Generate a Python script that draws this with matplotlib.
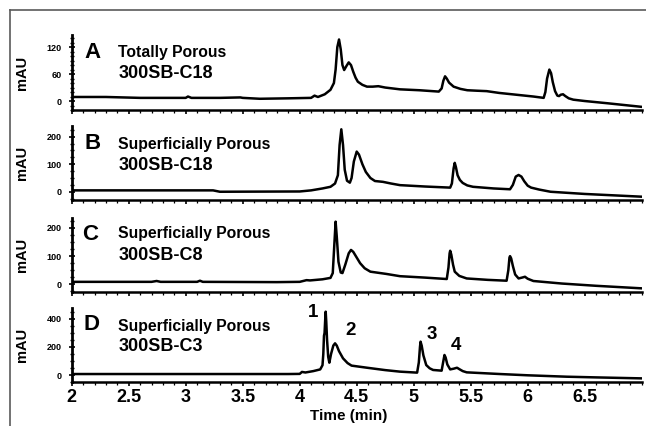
import matplotlib
matplotlib.use("Agg")
import matplotlib.pyplot as plt
from matplotlib.lines import Line2D
from matplotlib.ticker import MultipleLocator

plt.rcParams['font.family'] = ['Liberation Sans', 'DejaVu Sans']
plt.rcParams['font.weight'] = 'bold'

# ---------------- data ----------------
xA = [2.0, 2.3, 2.6, 3.0, 3.02, 3.05, 3.3, 3.48, 3.5, 3.65, 3.9, 4.1, 4.13, 4.16, 4.22, 4.27,
      4.30, 4.315, 4.33, 4.345, 4.36, 4.375, 4.39, 4.41, 4.43, 4.45, 4.47, 4.49, 4.51, 4.55,
      4.59, 4.64, 4.69, 4.75, 4.88, 5.05, 5.22, 5.245, 5.26, 5.275, 5.29, 5.31, 5.35, 5.41,
      5.47, 5.55, 5.64, 5.75, 5.9, 6.05, 6.14, 6.155, 6.17, 6.19, 6.205, 6.22, 6.24, 6.26,
      6.275, 6.29, 6.31, 6.33, 6.36, 6.4, 6.5, 6.7, 7.0]
yA = [9, 9, 7, 7, 10, 7, 7, 8, 7, 5, 6, 7, 12, 9, 15, 25,
      40, 70, 120, 137, 115, 80, 69, 78, 86, 80, 65, 52, 43, 36,
      32, 32, 33, 30, 26, 24, 21, 28, 45, 55, 50, 41, 32, 27,
      24, 23, 22, 18, 14, 10, 7, 20, 50, 70, 62, 42, 22, 12,
      11, 14, 15, 11, 6, 3, 0, -5, -13]

xB = [2.0, 3.24, 3.3, 4.0, 4.1, 4.2, 4.27, 4.31, 4.335, 4.35, 4.365, 4.38, 4.395, 4.415,
      4.44, 4.455, 4.475, 4.50, 4.52, 4.55, 4.58, 4.62, 4.66, 4.73, 4.80, 4.88, 5.1, 5.32,
      5.335, 5.35, 5.36, 5.37, 5.385, 5.405, 5.43, 5.47, 5.52, 5.7, 5.845, 5.87, 5.895,
      5.92, 5.945, 5.97, 6.0, 6.03, 6.1, 6.2, 6.5, 7.0]
yB = [5, 5, 0, 1, 5, 12, 18, 30, 60, 170, 227, 170, 80, 40,
      33, 50, 110, 146, 135, 100, 72, 50, 39, 36, 30, 24, 19, 15,
      30, 85, 105, 90, 60, 43, 32, 23, 18, 12, 9, 25, 55,
      61, 55, 38, 22, 15, 8, 0, -8, -18]

xC = [2.0, 2.7, 2.745, 2.78, 3.1, 3.125, 3.15, 3.8, 4.0, 4.03, 4.06, 4.09, 4.2, 4.27, 4.29,
      4.305, 4.315, 4.325, 4.34, 4.36, 4.375, 4.40, 4.43, 4.45, 4.47, 4.50, 4.53, 4.57, 4.62,
      4.76, 4.88, 5.1, 5.29, 5.305, 5.315, 5.32, 5.33, 5.345, 5.36, 5.40, 5.465, 5.65, 5.815,
      5.83, 5.84, 5.845, 5.855, 5.87, 5.89, 5.92, 5.95, 5.976, 6.0, 6.05, 6.3, 6.6, 7.0]
yC = [9, 9, 12, 9, 9, 13, 9, 8, 9, 12, 15, 14, 18, 23, 40,
      150, 222, 170, 80, 42, 40, 70, 110, 122, 115, 95, 75, 57, 45,
      37, 29, 24, 19, 60, 110, 119, 105, 70, 45, 30, 21, 16, 13,
      50, 95, 100, 92, 65, 35, 21, 24, 27, 20, 12, 3, -5, -14]

xD = [2.0, 3.9, 4.0, 4.02, 4.05, 4.12, 4.18, 4.20, 4.207, 4.213, 4.218, 4.224, 4.228, 4.233,
      4.24, 4.25, 4.26, 4.275, 4.295, 4.31, 4.325, 4.345, 4.38, 4.42, 4.455, 4.59, 4.75,
      4.88, 5.03, 5.045, 5.055, 5.06, 5.07, 5.085, 5.11, 5.14, 5.17, 5.245, 5.258, 5.27,
      5.28, 5.295, 5.32, 5.35, 5.38, 5.40, 5.43, 5.465, 5.757, 6.0, 6.34, 6.6, 7.0]
yD = [7, 7, 8, 22, 18, 28, 40, 70, 150, 280, 300, 400, 452, 380,
      250, 130, 88, 150, 210, 226, 210, 170, 119, 85, 67, 52, 35,
      24, 17, 90, 200, 238, 210, 140, 71, 48, 36, 31, 90, 143,
      125, 75, 40, 45, 52, 42, 28, 19, 7, -2, -12, -17, -24]

panel_letters = ["A", "B", "C", "D"]
line1 = ["Totally Porous", "Superficially Porous", "Superficially Porous", "Superficially Porous"]
line2 = ["300SB-C18", "300SB-C18", "300SB-C8", "300SB-C3"]
yticks = [[0, 60, 120], [0, 100, 200], [0, 100, 200], [0, 200, 400]]
yminor = [10, 25, 25, 50]
ylims = [(-20, 147), (-30, 239), (-28, 236), (-52, 476)]
xticks = [2, 2.5, 3, 3.5, 4, 4.5, 5, 5.5, 6, 6.5]
xtick_labels = ["2", "2.5", "3", "3.5", "4", "4.5", "5", "5.5", "6", "6.5"]
peak_labels = ["1", "2", "3", "4"]
peak_x = [4.117, 4.445, 5.161, 5.367]
peak_y = [443, 321, 286, 214]

xs = [xA, xB, xC, xD]
ys = [yA, yB, yC, yD]

# ---------------- layout ----------------
W, H = 646, 426
fig = plt.figure(figsize=(W / 100, H / 100), dpi=100)

left, right = 71.7, 641.7
tops = [35, 126, 217.7, 308.3]
bottoms = [110, 200, 292.3, 382.3]
letter_pos = [(84, 52), (85, 143), (82, 235), (83, 325)]
l1_y = [52.3, 144, 233.3, 326]
l2_y = [73.3, 165.7, 255, 346.7]

def fx(px):
    return px / W

def fy(py):
    return 1 - py / H

for i in range(4):
    ax = fig.add_axes([fx(left), fy(bottoms[i]), (right - left) / W, (bottoms[i] - tops[i]) / H])
    ax.plot(xs[i], ys[i], color='black', lw=1.8, solid_joinstyle='round')
    ax.set_xlim(2, 7)
    ax.set_ylim(*ylims[i])
    for s in ['top', 'right']:
        ax.spines[s].set_visible(False)
    ax.spines['left'].set_linewidth(2.0)
    ax.spines['bottom'].set_linewidth(1.8)
    ax.set_yticks(yticks[i])
    ax.set_yticklabels([str(v) for v in yticks[i]], fontsize=6.5, fontweight='bold')
    ax.yaxis.set_minor_locator(MultipleLocator(yminor[i]))
    ax.tick_params(axis='y', which='major', direction='inout', length=4, width=1.2, pad=5)
    ax.tick_params(axis='y', which='minor', direction='inout', length=2.5, width=1.0)
    ax.set_xticks(xticks)
    ax.xaxis.set_minor_locator(MultipleLocator(0.1))
    ax.tick_params(axis='x', which='major', direction='out', length=3, width=1.2, pad=1.5)
    ax.tick_params(axis='x', which='minor', direction='out', length=1.8, width=0.9)
    if i == 3:
        ax.set_xticklabels(xtick_labels, fontsize=13, fontweight='bold')
        for lab, px_, py_ in zip(peak_labels, peak_x, peak_y):
            ax.text(px_, py_, lab, fontsize=13.5, fontweight='bold', ha='center', va='center')
    else:
        ax.set_xticklabels([])
    ax.set_ylabel("mAU", fontsize=10.5, fontweight='bold')
    ax.yaxis.set_label_coords((29 - left) / (right - left), 0.5)

    lx, ly = letter_pos[i]
    fig.text(fx(lx), fy(ly), panel_letters[i], fontsize=16, fontweight='bold', ha='left', va='center')
    fig.text(fx(118.5), fy(l1_y[i]), line1[i], fontsize=11.3, fontweight='bold', ha='left', va='center')
    fig.text(fx(118.5), fy(l2_y[i]), line2[i], fontsize=13, fontweight='bold', ha='left', va='center')

fig.text(fx(349), fy(416), "Time (min)", fontsize=11, fontweight='bold', ha='center', va='center')

# outer frame (top and left edges visible)
fig.add_artist(Line2D([fx(10), fx(646)], [fy(9.5), fy(9.5)], transform=fig.transFigure,
                      color='#5a5a5a', lw=1.2))
fig.add_artist(Line2D([fx(10), fx(10)], [fy(9.5), fy(426)], transform=fig.transFigure,
                      color='#5a5a5a', lw=1.2))

fig.savefig("out.png", dpi=100)
